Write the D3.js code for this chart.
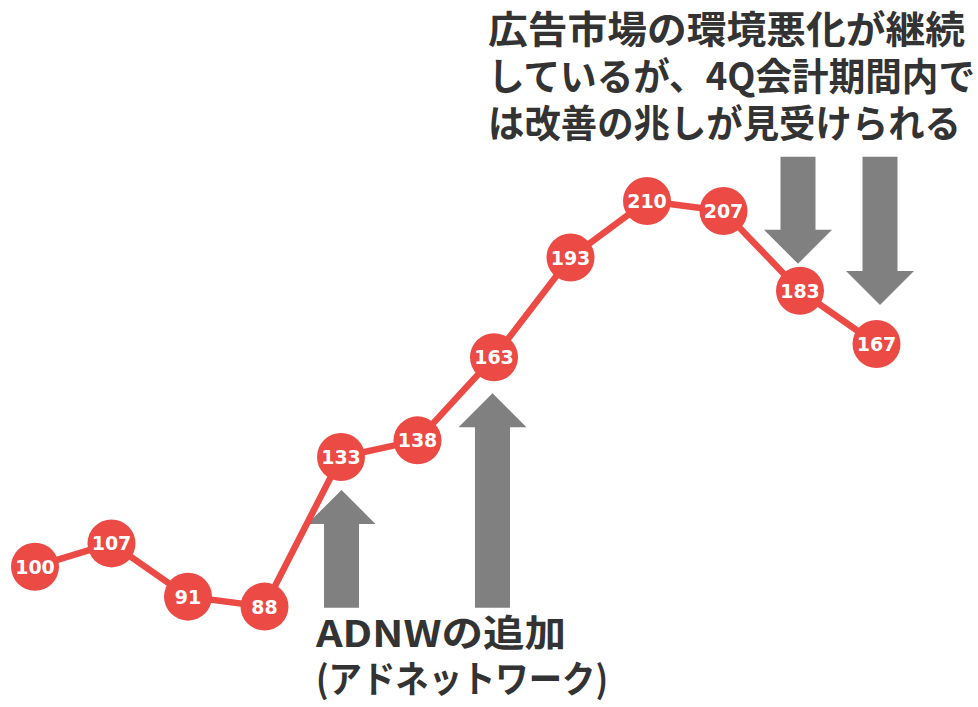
<!DOCTYPE html>
<html>
<head>
<meta charset="utf-8">
<script src="https://cdn.jsdelivr.net/npm/d3@7/dist/d3.min.js"></script>
<style>
  html, body { margin: 0; padding: 0; background: #fff; }
  svg { display: block; }
  .note { font-family: "Noto Sans CJK JP", sans-serif; font-weight: 700; fill: #333; }
  .val { font-family: "DejaVu Sans", Verdana, sans-serif; font-weight: 700; fill: #fff; }
</style>
</head>
<body>
<script>
// Quarterly index (first quarter = 100)
const quarters = ["Q1", "Q2", "Q3", "Q4", "Q5", "Q6", "Q7", "Q8", "Q9", "Q10", "Q11", "Q12"];
const indexValues = [100, 107, 91, 88, 133, 138, 163, 193, 210, 207, 183, 167];

// Annotation texts
const upNote = ["ADNWの追加", "(アドネットワーク)"];
const downNote = ["広告市場の環境悪化が継続", "しているが、4Q会計期間内で", "は改善の兆しが見受けられる"];
// Quarters marked with arrows
const upArrowAt = ["Q5", "Q7"];
const downArrowAt = ["Q11", "Q12"];

const W = 978, H = 707;
const RED = "#EB4A45", GREY = "#808080";

const svg = d3.select("body").append("svg").attr("width", W).attr("height", H);

const x = d3.scalePoint().domain(quarters).range([35, 876.5]);
const y = d3.scaleLinear().domain([88, 210]).range([606.6, 201]);

const pts = quarters.map((q, i) => ({ q, v: indexValues[i] }));

// Block arrow path: shaft width sw, head width hw, head length hl
function arrowPath(cx, tipY, tailY, sw = 35, hw = 68, hl = 34) {
  const dir = tailY > tipY ? 1 : -1; // 1 = points up
  const baseY = tipY + dir * hl;
  return d3.line()([
    [cx, tipY], [cx + hw / 2, baseY], [cx + sw / 2, baseY], [cx + sw / 2, tailY],
    [cx - sw / 2, tailY], [cx - sw / 2, baseY], [cx - hw / 2, baseY]
  ]) + "Z";
}

const val = q => indexValues[quarters.indexOf(q)];

// Upward arrows below the jumps
svg.append("g").selectAll("path").data(upArrowAt).join("path")
  .attr("fill", GREY)
  .attr("d", (q, i) => arrowPath(x(q) + (i === 0 ? 0.5 : -1.5), y(val(q)) + (i === 0 ? 33 : 36), 607.7));

// Downward arrows above the decline
svg.append("g").selectAll("path").data(downArrowAt).join("path")
  .attr("fill", GREY)
  .attr("d", (q, i) => arrowPath(x(q) + (i === 0 ? -2 : 3.5), y(val(q)) - (i === 0 ? 27 : 39), 156.7));

// Line
svg.append("path")
  .datum(pts)
  .attr("fill", "none")
  .attr("stroke", RED)
  .attr("stroke-width", 6.5)
  .attr("d", d3.line().x(d => x(d.q)).y(d => y(d.v)));

// Markers with values
const mk = svg.append("g").selectAll("g").data(pts).join("g")
  .attr("transform", d => `translate(${x(d.q)},${y(d.v)})`);
mk.append("circle").attr("r", 24).attr("fill", RED);
mk.append("text").attr("class", "val")
  .attr("text-anchor", "middle").attr("dy", "0.37em")
  .attr("font-size", 19)
  .text(d => d.v);

// Notes (each line fitted to its width)
const upWidths = [250, 292];
svg.append("g").selectAll("text").data(upNote).join("text")
  .attr("class", "note").attr("font-size", 37)
  .attr("x", 316).attr("y", (d, i) => 647 + i * 46)
  .attr("textLength", (d, i) => upWidths[i])
  .attr("lengthAdjust", "spacingAndGlyphs")
  .text(d => d);

const downWidths = [477, 487, 473];
svg.append("g").selectAll("text").data(downNote).join("text")
  .attr("class", "note").attr("font-size", 38)
  .attr("x", 488).attr("y", (d, i) => 43 + i * 47)
  .attr("textLength", (d, i) => downWidths[i])
  .attr("lengthAdjust", "spacingAndGlyphs")
  .text(d => d);
</script>
</body>
</html>
